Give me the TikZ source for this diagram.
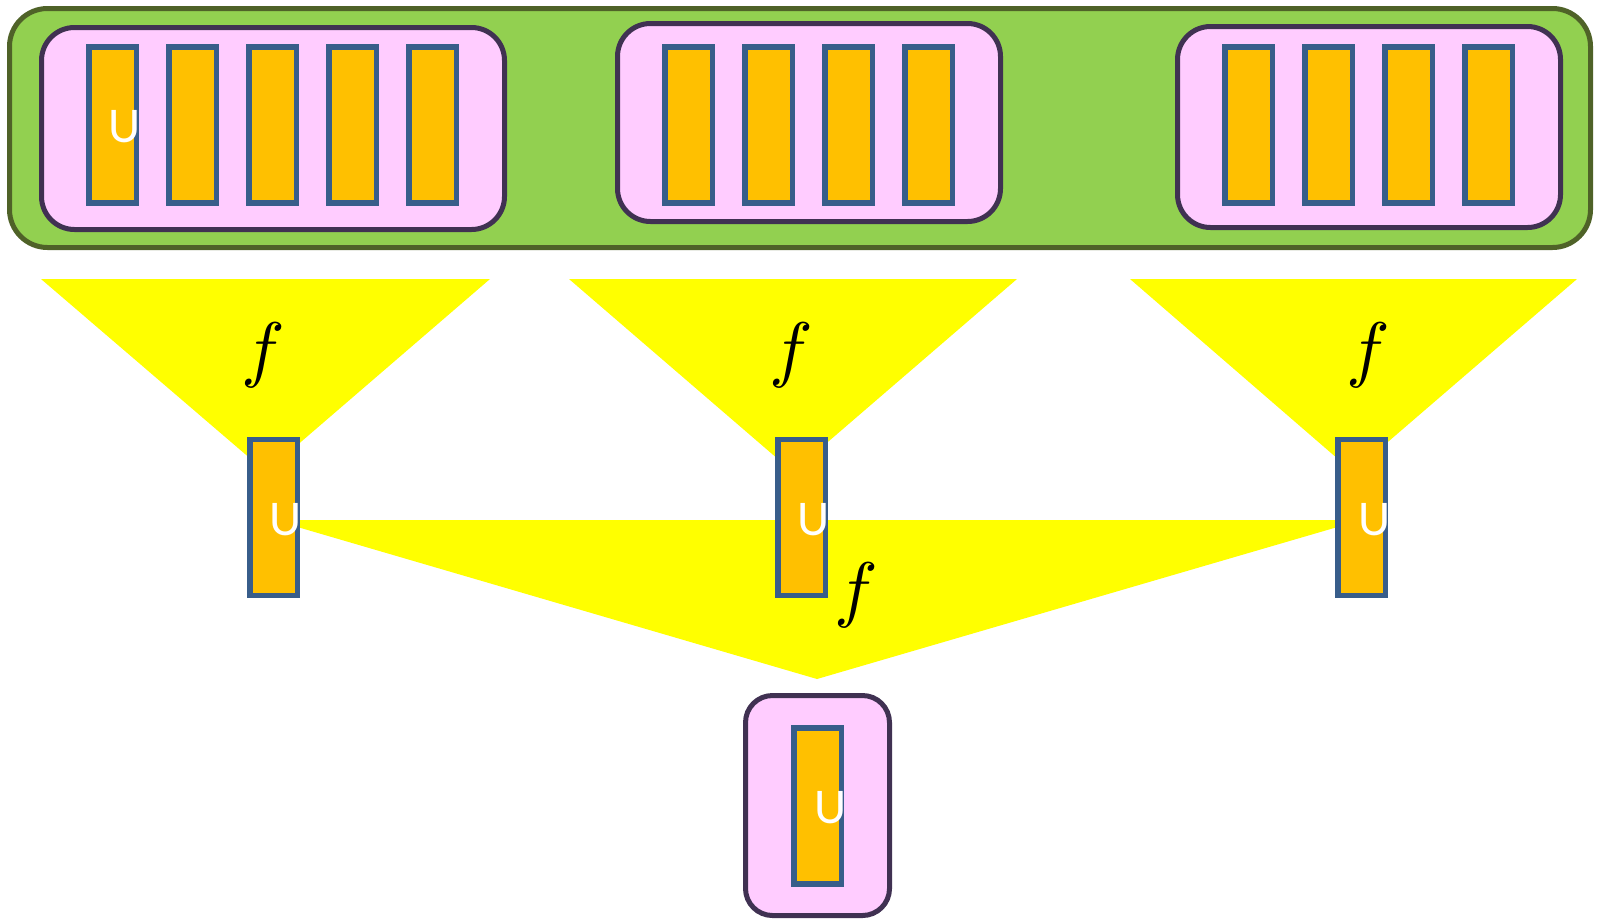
\documentclass[tikz,border=0pt]{standalone}
\usepackage{graphicx}
\usepackage{fontspec}
\newfontfamily\ufont{Carlito}
\definecolor{greenf}{HTML}{92D050}
\definecolor{greenb}{HTML}{4F6228}
\definecolor{pinkf}{HTML}{FFCCFF}
\definecolor{pinkb}{HTML}{403152}
\definecolor{orangef}{HTML}{FFC000}
\definecolor{blueb}{HTML}{385D8A}
\definecolor{yellowf}{HTML}{FFFF00}
\newcommand{\bigf}{\scalebox{7.3}{$f$}}
\tikzset{
  outerbox/.style={draw=greenb, fill=greenf, line width=5pt, rounded corners=38pt},
  grp/.style={draw=pinkb, fill=pinkf, line width=5pt, rounded corners=33pt},
  smallgrp/.style={draw=pinkb, fill=pinkf, line width=5pt, rounded corners=27pt},
  cell/.style={rectangle, draw=blueb, fill=orangef, line width=5.5pt, minimum width=47.5pt, minimum height=156pt, inner sep=0pt},
  ulab/.style={text=white, font=\ufont\fontsize{50}{50}\selectfont, anchor=base, inner sep=0pt},
  flab/.style={inner sep=0pt},
  fan/.style={fill=yellowf, draw=none},
}
\begin{document}
\begin{tikzpicture}[x=1pt, y=-1pt]
\useasboundingbox (0,0) rectangle (1597,919);
% top container
\path[outerbox] (9.5,8.5) rectangle (1590.5,247.5);
\path[grp] (41.5,27.5) rectangle (504.5,229.5);
\path[grp] (617.5,23.5) rectangle (1000.5,221.5);
\path[grp] (1177.5,26.5) rectangle (1560.5,227.5);
% top cells
\foreach \x [count=\i] in {112.5,192.5,272.5,352.5,432.5}
  \node[cell] (a\i) at (\x,125) {};
\foreach \x [count=\i] in {688.5,768.5,848.5,928.5}
  \node[cell] (b\i) at (\x,125) {};
\foreach \x [count=\i] in {1248.5,1328.5,1408.5,1488.5}
  \node[cell] (c\i) at (\x,125) {};
\node[ulab] (ua) at (125,142) {U};
% fans
\path[fan] (41,279) -- (490,279) -- (266,472) -- cycle;
\path[fan] (569,279) -- (1017,279) -- (793,472) -- cycle;
\path[fan] (1130,279) -- (1577,279) -- (1353,472) -- cycle;
\path[fan] (273.5,520) -- (1361.5,520) -- (817,679) -- cycle;
\node[flab] (f1) at (263,355) {\bigf};
\node[flab] (f2) at (791,355) {\bigf};
\node[flab] (f3) at (1368,355) {\bigf};
\node[flab] (f4) at (856,595) {\bigf};
% middle cells
\node[cell] (m1) at (273.5,517.5) {};
\node[cell] (m2) at (801.5,517.5) {};
\node[cell] (m3) at (1361.5,517.5) {};
\node[ulab] (um1) at (286,535) {U};
\node[ulab] (um2) at (814,535) {U};
\node[ulab] (um3) at (1374.5,535) {U};
% bottom
\path[smallgrp] (745.5,695.5) rectangle (889.5,915.5);
\node[cell] (r) at (817.5,806) {};
\node[ulab] (ur) at (830.5,823) {U};
\end{tikzpicture}
\end{document}
